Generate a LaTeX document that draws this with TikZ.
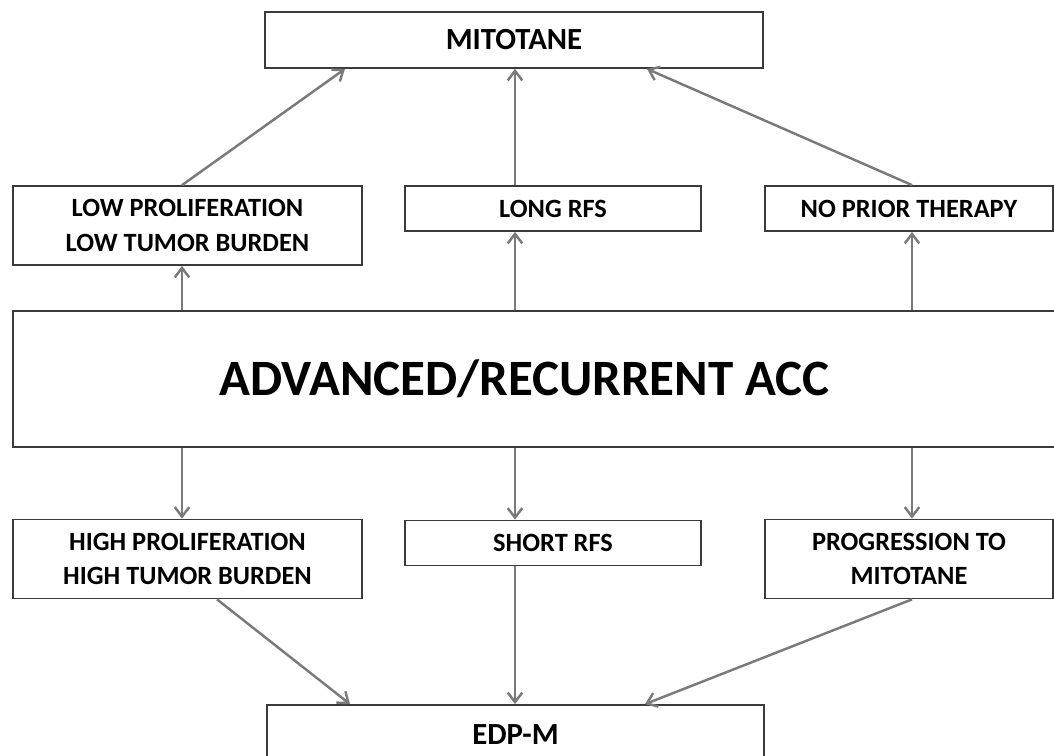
\documentclass[tikz,border=0pt]{standalone}
\usepackage{fontspec}
\setmainfont{Carlito}
\usetikzlibrary{arrows.meta}
\definecolor{boxline}{HTML}{3A3A3A}
\definecolor{arrgray}{HTML}{7A7A7A}

\begin{document}
\begin{tikzpicture}[x=0.02cm,y=-0.02cm,
    box/.style={draw=boxline,line width=1pt,rectangle,inner sep=0pt,align=center,
      font=\bfseries\fontsize{15}{19.8}\selectfont},
    arr/.style={draw=arrgray,line width=1.4pt,-{Straight Barb[length=1.9mm,width=2.9mm]}}]
    \useasboundingbox (0,0) rectangle (1054,756);
    \node[box,minimum width=9.96cm,minimum height=1.12cm,font=\bfseries\fontsize{17.5}{21}\selectfont] (mito) at (514,40) {MITOTANE};
    \node[box,minimum width=6.98cm,minimum height=1.58cm] (lowp) at (187.5,225.5) {LOW PROLIFERATION\\LOW TUMOR BURDEN};
    \node[box,minimum width=5.92cm,minimum height=0.9cm] (longrfs) at (553,208.5) {LONG RFS};
    \node[box,minimum width=5.76cm,minimum height=0.9cm] (noprior) at (909,208.5) {NO PRIOR THERAPY};
    \node[box,minimum width=20.98cm,minimum height=2.72cm,font=\bfseries\fontsize{29}{34}\selectfont] (acc) at (537.5,379) {\hspace*{-0.52cm}ADVANCED/RECURRENT ACC};
    \node[box,minimum width=6.98cm,minimum height=1.58cm] (highp) at (187.5,559) {HIGH PROLIFERATION\\HIGH TUMOR BURDEN};
    \node[box,minimum width=5.92cm,minimum height=0.9cm] (shortrfs) at (553,543) {SHORT RFS};
    \node[box,minimum width=5.76cm,minimum height=1.58cm] (prog) at (909,559) {PROGRESSION TO\\MITOTANE};
    \node[box,minimum width=9.94cm,minimum height=1.2cm,font=\bfseries\fontsize{17.5}{21}\selectfont] (edp) at (515.5,735) {EDP-M};

    \coordinate (cl) at (182,0);
    \coordinate (cm) at (515,0);
    \coordinate (cr) at (912,0);
    \coordinate (tl) at (345,0);
    \coordinate (tr) at (647,0);
    \coordinate (bl) at (217,0);
    \coordinate (bm) at (350,0);
    \coordinate (br) at (645,0);

    \draw[arr] (acc.north -| cl) -- (lowp.south -| cl);
    \draw[arr] (acc.north -| cm) -- (longrfs.south -| cm);
    \draw[arr] (acc.north -| cr) -- (noprior.south -| cr);
    \draw[arr] (lowp.north -| cl) -- (mito.south -| tl);
    \draw[arr] (longrfs.north -| cm) -- (mito.south -| cm);
    \draw[arr] (noprior.north -| cr) -- (mito.south -| tr);
    \draw[arr] (acc.south -| cl) -- (highp.north -| cl);
    \draw[arr] (acc.south -| cm) -- (shortrfs.north -| cm);
    \draw[arr] (acc.south -| cr) -- (prog.north -| cr);
    \draw[arr] (highp.south -| bl) -- (edp.north -| bm);
    \draw[arr] (shortrfs.south -| cm) -- (edp.north -| cm);
    \draw[arr] (prog.south -| cr) -- (edp.north -| br);
  \end{tikzpicture}
\end{document}
